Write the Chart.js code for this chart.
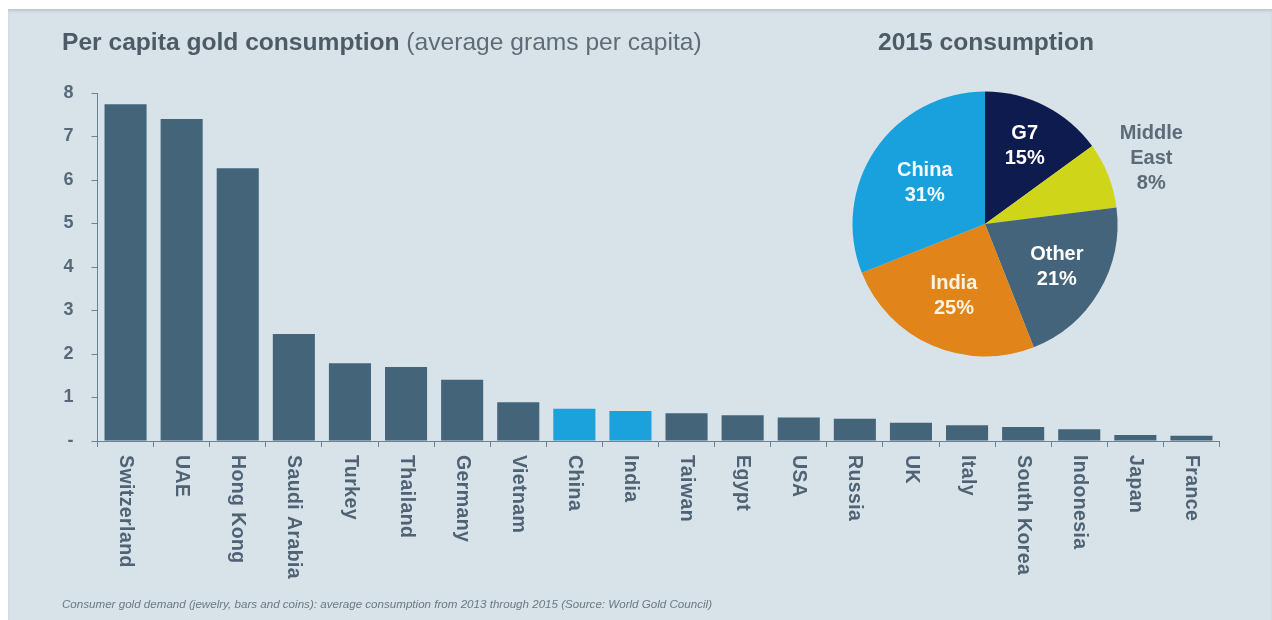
<!DOCTYPE html>
<html>
<head>
<meta charset="utf-8">
<script src="https://cdn.jsdelivr.net/npm/chart.js@4.4.1/dist/chart.umd.min.js"></script>
<style>
  html, body { margin: 0; padding: 0; background: #ffffff; }
  body { width: 1272px; height: 620px; position: relative; overflow: hidden;
         font-family: "Liberation Sans", Arial, Helvetica, sans-serif; }
  #panel { position: absolute; left: 8px; top: 9px; right: 0; bottom: 0;
           background: #d8e2e9;
           box-shadow: inset 0 3px 3px -1px rgba(150,160,168,0.45); }
  #barCanvas { position: absolute; left: 0; top: 0; }
  #pieCanvas { position: absolute; left: 835px; top: 74px; }
  .title { position: absolute; top: 28px; font-size: 24.6px; line-height: 28px;
           color: #4c5b66; white-space: nowrap; }
  .title b { font-weight: bold; }
  .title span { color: #5e6c76; }
  #footnote { position: absolute; left: 62px; top: 597px; font-size: 11.6px;
              font-style: italic; color: #6a7984; white-space: nowrap; }
</style>
</head>
<body>
<div id="panel"></div>
<canvas id="barCanvas" width="1272" height="620"></canvas>
<canvas id="pieCanvas" width="380" height="300"></canvas>
<div class="title" style="left:62px"><b>Per capita gold consumption</b> <span>(average grams per capita)</span></div>
<div class="title" style="left:878px"><b>2015 consumption</b></div>
<div id="footnote">Consumer gold demand (jewelry, bars and coins): average consumption from 2013 through 2015 (Source: World Gold Council)</div>

<script>
// Per capita consumption, grams per person (average 2013-2015)
const countries = ['Switzerland', 'UAE', 'Hong Kong', 'Saudi Arabia', 'Turkey', 'Thailand',
  'Germany', 'Vietnam', 'China', 'India', 'Taiwan', 'Egypt', 'USA', 'Russia', 'UK', 'Italy',
  'South Korea', 'Indonesia', 'Japan', 'France'];
const gramsPerCapita = [7.74, 7.40, 6.27, 2.46, 1.79, 1.70, 1.41, 0.89, 0.74, 0.69, 0.64,
  0.59, 0.54, 0.51, 0.42, 0.36, 0.32, 0.27, 0.14, 0.12];
const highlighted = ['China', 'India'];
const yTicks = [0, 1, 2, 3, 4, 5, 6, 7, 8];

// 2015 consumption share by region
const regions = ['G7', 'Middle East', 'Other', 'India', 'China'];
const regionShares = [15, 8, 21, 25, 31];

const FONT = '"Liberation Sans", Arial, Helvetica, sans-serif';
const AXIS = '#6f8190';
const BAR = '#44647a';
const BAR_HI = '#1ba1dc';
const LABEL = '#4f6374';

// Category labels under the x axis, rotated to read downwards
const xLabelPlugin = {
  id: 'xLabels',
  afterDraw(chart) {
    const xs = chart.scales.x;
    const ctx = chart.ctx;
    ctx.save();
    ctx.fillStyle = LABEL;
    ctx.font = 'bold 19.5px ' + FONT;
    ctx.letterSpacing = '0.4px';
    ctx.textAlign = 'left';
    ctx.textBaseline = 'middle';
    chart.data.labels.forEach((lab, i) => {
      ctx.save();
      ctx.translate(xs.getPixelForValue(i), xs.top + 14);
      ctx.rotate(Math.PI / 2);
      ctx.fillText(lab, 0, 0);
      ctx.restore();
    });
    ctx.restore();
  }
};

new Chart(document.getElementById('barCanvas'), {
  type: 'bar',
  data: {
    labels: countries,
    datasets: [{
      data: gramsPerCapita,
      backgroundColor: countries.map(c => highlighted.includes(c) ? BAR_HI : BAR),
      borderWidth: 0,
      barPercentage: 0.75,
      categoryPercentage: 1.0
    }]
  },
  options: {
    responsive: false,
    animation: false,
    layout: { padding: { left: 0, top: 93, right: 52.5, bottom: 0 } },
    plugins: { legend: { display: false }, tooltip: { enabled: false } },
    scales: {
      x: {
        ticks: { display: false },
        grid: { offset: true, drawOnChartArea: false, drawTicks: true, tickLength: 6, color: AXIS },
        border: { display: true, color: AXIS, width: 1 },
        afterFit(s) { s.height = 179; }
      },
      y: {
        min: yTicks[0],
        max: yTicks[yTicks.length - 1],
        afterBuildTicks(s) { s.ticks = yTicks.map(v => ({ value: v })); },
        ticks: {
          color: '#56697a',
          padding: 18,
          font: { family: FONT, size: 18, weight: 'bold' },
          callback: v => v === 0 ? '-' : v
        },
        grid: { drawOnChartArea: false, drawTicks: true, tickLength: 6, color: AXIS },
        border: { display: true, color: AXIS, width: 1 },
        afterFit(s) { s.width = 97.5; }
      }
    }
  },
  plugins: [xLabelPlugin]
});

// Slice labels: white inside the slices, grey outside for the thin one
const pieLabelStyle = {
  radiusFrac: [0.66, 1.35, 0.63, 0.59, 0.55],
  color: ['#ffffff', '#5b6b77', '#ffffff', '#fdf3e3', '#f2fbff']
};
const pieLabelPlugin = {
  id: 'pieLabels',
  afterDatasetsDraw(chart) {
    const ctx = chart.ctx;
    const meta = chart.getDatasetMeta(0);
    ctx.save();
    ctx.font = 'bold 20px ' + FONT;
    ctx.textAlign = 'center';
    ctx.textBaseline = 'middle';
    meta.data.forEach((arc, i) => {
      const p = arc.getProps(['x', 'y', 'startAngle', 'endAngle', 'outerRadius'], true);
      const mid = (p.startAngle + p.endAngle) / 2;
      const r = p.outerRadius * pieLabelStyle.radiusFrac[i];
      const cx = p.x + Math.cos(mid) * r;
      const cy = p.y + Math.sin(mid) * r;
      const lines = chart.data.labels[i].split(' ');
      lines.push(chart.data.datasets[0].data[i] + '%');
      const lh = 25;
      ctx.fillStyle = pieLabelStyle.color[i];
      lines.forEach((t, k) => {
        ctx.fillText(t, cx, cy + (k - (lines.length - 1) / 2) * lh);
      });
    });
    ctx.restore();
  }
};

new Chart(document.getElementById('pieCanvas'), {
  type: 'pie',
  data: {
    labels: regions,
    datasets: [{
      data: regionShares,
      backgroundColor: ['#0d1b4f', '#cfd619', '#43647a', '#e1841a', '#18a1dd'],
      borderWidth: 0
    }]
  },
  options: {
    responsive: false,
    animation: false,
    radius: 132.5,
    layout: { padding: { left: 0, top: 0, right: 80, bottom: 0 } },
    plugins: { legend: { display: false }, tooltip: { enabled: false } }
  },
  plugins: [pieLabelPlugin]
});
</script>
</body>
</html>
